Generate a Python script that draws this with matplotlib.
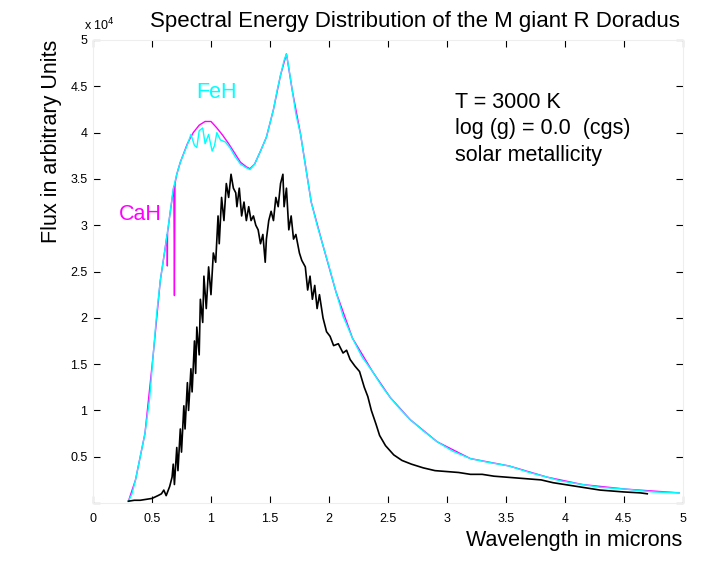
import matplotlib
matplotlib.use("Agg")
from matplotlib import pyplot as plt

plt.rcParams['font.family'] = ['Liberation Sans', 'DejaVu Sans']

# model continuum (cyan)
model_x = [0.30, 0.33, 0.36, 0.40, 0.44, 0.48, 0.51, 0.54, 0.57, 0.61, 0.65, 0.68, 0.71, 0.74,
           0.80, 0.83, 0.86, 0.88, 0.90, 0.93, 0.95, 0.98, 1.01, 1.03, 1.05, 1.08, 1.12, 1.16,
           1.20, 1.25, 1.30, 1.33, 1.37, 1.42, 1.47, 1.50, 1.53, 1.56, 1.59, 1.62, 1.64, 1.66,
           1.69, 1.72, 1.76, 1.80, 1.85, 1.90, 1.95, 2.00, 2.06, 2.12, 2.20, 2.28, 2.37, 2.45,
           2.52, 2.60, 2.69, 2.80, 2.92, 3.05, 3.20, 3.35, 3.53, 3.70, 3.85, 3.96, 4.15, 4.30,
           4.52, 4.75, 4.97]
model_y = [0.02, 0.10, 0.25, 0.50, 0.75, 1.13, 1.60, 2.05, 2.40, 2.74, 3.10, 3.39, 3.55, 3.68,
           3.87, 3.98, 3.86, 3.84, 4.02, 4.05, 3.88, 3.98, 3.80, 3.86, 4.00, 3.92, 3.90, 3.84,
           3.75, 3.66, 3.62, 3.60, 3.66, 3.80, 3.95, 4.10, 4.25, 4.45, 4.62, 4.78, 4.85, 4.70,
           4.45, 4.20, 3.98, 3.65, 3.25, 3.00, 2.78, 2.56, 2.28, 2.02, 1.78, 1.58, 1.42, 1.26,
           1.14, 1.02, 0.90, 0.78, 0.66, 0.56, 0.48, 0.44, 0.40, 0.33, 0.28, 0.24, 0.20, 0.17,
           0.15, 0.12, 0.11]

# model with CaH / FeH bands (magenta)
band_x = [0.30, 0.36, 0.44, 0.51, 0.57, 0.61, 0.628, 0.63, 0.632, 0.65, 0.685, 0.69, 0.695,
          0.71, 0.74, 0.80, 0.85, 0.90, 0.95, 1.00, 1.05, 1.10, 1.15, 1.20, 1.25, 1.30, 1.33,
          1.37, 1.42, 1.47, 1.53, 1.59, 1.64, 1.69, 1.76, 1.85, 1.95, 2.06, 2.20, 2.37, 2.52,
          2.69, 2.92, 3.20, 3.53, 3.85, 4.15, 4.52, 4.97]
band_y = [0.02, 0.25, 0.75, 1.60, 2.40, 2.74, 2.90, 2.56, 2.92, 3.10, 3.42, 2.24, 3.45,
          3.55, 3.68, 3.88, 4.00, 4.08, 4.12, 4.12, 4.05, 3.97, 3.88, 3.78, 3.68, 3.63, 3.61,
          3.66, 3.80, 3.95, 4.25, 4.62, 4.85, 4.45, 3.98, 3.25, 2.78, 2.28, 1.78, 1.42, 1.14,
          0.90, 0.66, 0.48, 0.40, 0.28, 0.20, 0.15, 0.11]

# observed spectrum (black)
obs_x = [0.30, 0.35, 0.40, 0.45, 0.50, 0.55, 0.58, 0.60, 0.62, 0.65, 0.67, 0.68, 0.69, 0.71,
         0.72, 0.74, 0.75, 0.77, 0.78, 0.80, 0.81, 0.83, 0.84, 0.86, 0.87, 0.88, 0.90, 0.91,
         0.93, 0.94, 0.96, 0.98, 1.00, 1.02, 1.04, 1.06, 1.07, 1.09, 1.11, 1.13, 1.15, 1.17,
         1.19, 1.21, 1.22, 1.24, 1.26, 1.28, 1.30, 1.32, 1.34, 1.36, 1.38, 1.40, 1.42, 1.44,
         1.46, 1.47, 1.49, 1.51, 1.53, 1.55, 1.57, 1.59, 1.61, 1.62, 1.64, 1.66, 1.68, 1.70,
         1.72, 1.75, 1.77, 1.80, 1.82, 1.84, 1.86, 1.88, 1.90, 1.92, 1.95, 1.98, 2.01, 2.04,
         2.08, 2.12, 2.15, 2.18, 2.22, 2.26, 2.30, 2.33, 2.36, 2.40, 2.43, 2.48, 2.55, 2.62,
         2.70, 2.80, 2.90, 3.00, 3.10, 3.20, 3.30, 3.40, 3.50, 3.60, 3.70, 3.80, 3.90, 4.00,
         4.10, 4.20, 4.30, 4.40, 4.50, 4.64, 4.70]
obs_y = [0.02, 0.03, 0.03, 0.04, 0.05, 0.08, 0.10, 0.14, 0.08, 0.18, 0.28, 0.42, 0.20, 0.60,
         0.35, 0.80, 0.55, 1.05, 0.80, 1.30, 1.00, 1.45, 1.20, 1.75, 1.40, 1.90, 1.60, 2.20,
         1.95, 2.45, 2.10, 2.55, 2.25, 2.70, 2.60, 3.10, 2.80, 3.30, 3.05, 3.45, 3.30, 3.55,
         3.40, 3.35, 3.20, 3.40, 3.10, 3.25, 3.05, 3.20, 3.05, 3.10, 3.00, 2.95, 2.80, 2.90,
         2.60, 2.85, 3.05, 3.15, 3.05, 3.30, 3.20, 3.45, 3.55, 3.20, 3.40, 2.95, 3.10, 2.85,
         2.90, 2.70, 2.62, 2.55, 2.30, 2.45, 2.20, 2.35, 2.10, 2.25, 2.00, 1.85, 1.80, 1.70,
         1.72, 1.62, 1.65, 1.55, 1.48, 1.42, 1.25, 1.15, 1.00, 0.85, 0.73, 0.62, 0.52, 0.46,
         0.42, 0.38, 0.35, 0.34, 0.33, 0.31, 0.31, 0.29, 0.28, 0.27, 0.26, 0.25, 0.22, 0.20,
         0.18, 0.16, 0.14, 0.13, 0.12, 0.11, 0.10]

x_ticks = [0, 0.5, 1, 1.5, 2, 2.5, 3, 3.5, 4, 4.5, 5]
x_tick_labels = ['0', '0.5', '1', '1.5', '2', '2.5', '3', '3.5', '4', '4.5', '5']
y_ticks = [0, 0.5, 1, 1.5, 2, 2.5, 3, 3.5, 4, 4.5, 5]
y_tick_labels = ['', '0.5', '1', '1.5', '2', '2.5', '3', '3.5', '4', '4.5', '5']

fig = plt.figure(figsize=(7.27, 5.71), dpi=100)
ax = fig.add_axes([0.128, 0.119, 0.811, 0.811])

ax.plot(band_x, band_y, color='magenta', lw=1.0)
ax.plot(model_x, model_y, color='cyan', lw=1.0)
ax.plot(obs_x, obs_y, color='black', lw=1.2)

ax.set_xlim(0, 5)
ax.set_ylim(0, 5)
ax.set_xticks(x_ticks)
ax.set_xticklabels(x_tick_labels)
ax.set_yticks(y_ticks)
ax.set_yticklabels(y_tick_labels)
ax.tick_params(direction='in', length=5, labelsize=9, top=True, right=True)
ax.tick_params(axis='x', pad=7)
ax.tick_params(axis='y', pad=4)
for sp in ax.spines.values():
    sp.set_color('#eeeeee')

# MATLAB style exponent label
ax.text(-0.015, 1.015, r'x 10$^{4}$', transform=ax.transAxes, fontsize=9, ha='left', va='bottom')

ax.set_title('Spectral Energy Distribution of the M giant R Doradus', fontsize=16, x=0.546, pad=9)
ax.set_xlabel('Wavelength in microns', fontsize=15.5, loc='right', labelpad=4)
ax.set_ylabel('Flux in arbitrary Units', fontsize=15.5, loc='top', labelpad=6)

ax.text(1.05, 4.43, 'FeH', color='cyan', fontsize=15.5, ha='center', va='center')
ax.text(0.40, 3.12, 'CaH', color='magenta', fontsize=15.5, ha='center', va='center')
ax.text(3.07, 4.33, 'T = 3000 K', fontsize=15.5, va='center')
ax.text(3.07, 4.04, 'log (g) = 0.0  (cgs)', fontsize=15.5, va='center')
ax.text(3.07, 3.75, 'solar metallicity', fontsize=15.5, va='center')

plt.savefig('out.png', dpi=100)
plt.close()
